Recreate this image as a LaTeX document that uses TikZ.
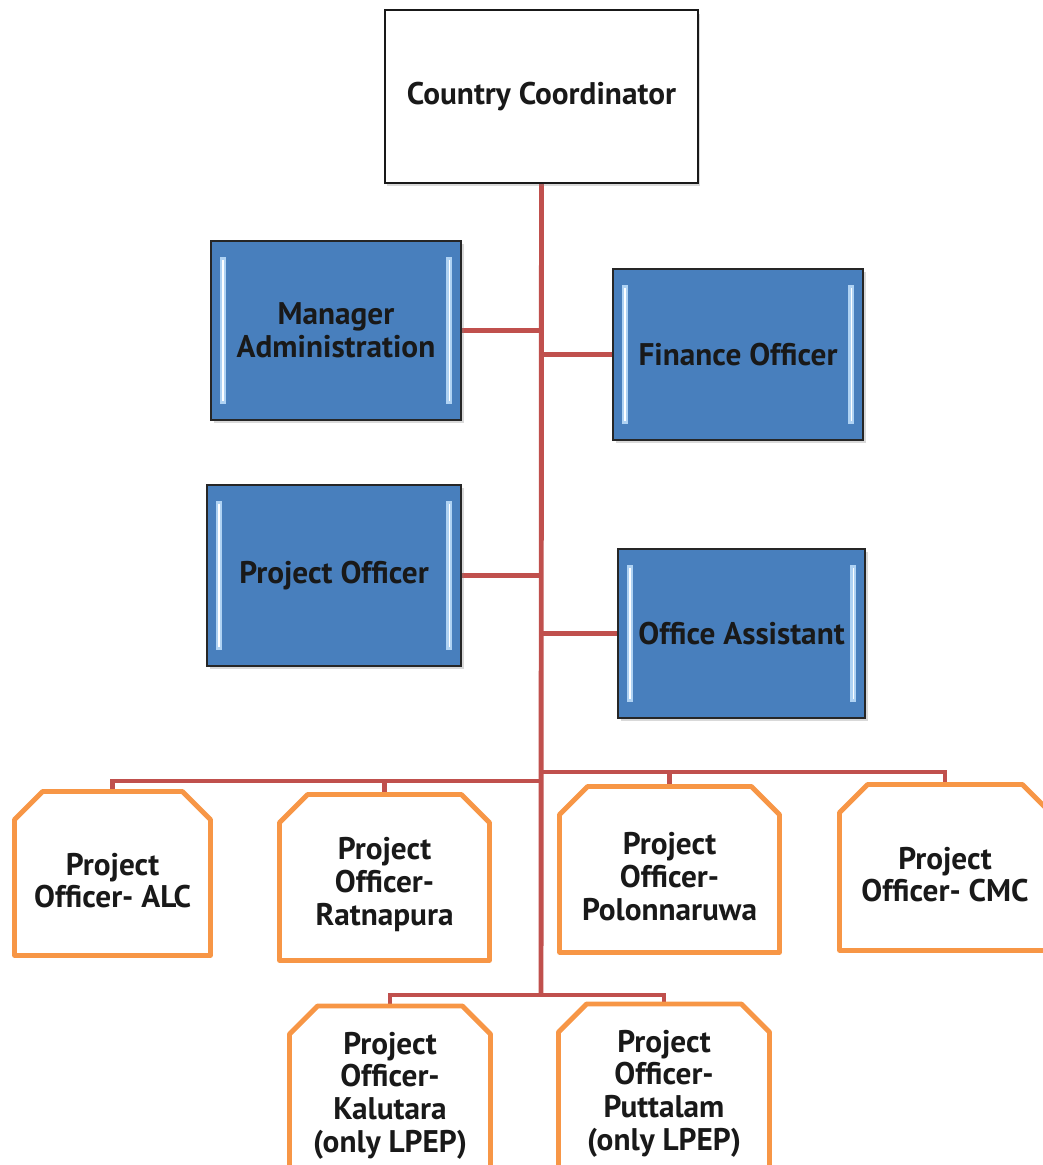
\documentclass[tikz,border=0pt]{standalone}
\usepackage{fontspec}
\setmainfont{PT Sans}
\usepackage{xcolor}
\usetikzlibrary{shapes,positioning,calc,shadows,backgrounds,arrows.meta}

\definecolor{linkred}{RGB}{192,80,77}
\definecolor{boxblue}{RGB}{72,127,189}
\definecolor{bevelblue}{RGB}{175,210,243}
\definecolor{edgeorange}{RGB}{247,150,70}

\begin{document}
\begin{tikzpicture}[x=0.02cm, y=-0.02cm,
    every node/.style={font=\fontsize{17.8}{18.6}\selectfont\bfseries, align=center, text=black!90},
    topbox/.style={draw=black!90, line width=1.2pt, fill=white, inner sep=0pt,
        drop shadow={shadow xshift=1pt, shadow yshift=-2pt, opacity=0.3}},
    bluebox/.style={draw=black!85, line width=1.3pt, fill=boxblue, inner sep=0pt,
        drop shadow={shadow xshift=1.5pt, shadow yshift=-1.5pt, opacity=0.3},
        path picture={
            \fill[bevelblue] ([xshift=5pt,yshift=-9pt]path picture bounding box.north west) rectangle ([xshift=8.5pt,yshift=9pt]path picture bounding box.south west);
            \fill[bevelblue] ([xshift=-5pt,yshift=-9pt]path picture bounding box.north east) rectangle ([xshift=-8.5pt,yshift=9pt]path picture bounding box.south east);
            \draw[white, line width=0.8pt] ([xshift=6.7pt,yshift=-11pt]path picture bounding box.north west) -- ([xshift=6.7pt,yshift=11pt]path picture bounding box.south west);
            \draw[white, line width=0.8pt] ([xshift=-6.7pt,yshift=-11pt]path picture bounding box.north east) -- ([xshift=-6.7pt,yshift=11pt]path picture bounding box.south east);
        }},
    % outline sits 4pt above the text box, so the text lies a little low as in the chart
    officebox/.style={rectangle, inner sep=0pt, outer sep=0pt,
        append after command={\pgfextra{
            \draw[edgeorange, fill=white, line width=2.8pt, line join=round]
                ([yshift=-12pt]\tikzlastnode.north west) -- ([xshift=16pt,yshift=4pt]\tikzlastnode.north west)
                -- ([xshift=-16pt,yshift=4pt]\tikzlastnode.north east) -- ([yshift=-12pt]\tikzlastnode.north east)
                -- ([yshift=4pt]\tikzlastnode.south east) -- ([yshift=4pt]\tikzlastnode.south west) -- cycle;
        }}},
    link/.style={draw=linkred, line width=2.8pt}]

    \path[use as bounding box] (0,0) rectangle (1043,1165);
    \clip (0,0) rectangle (1043,1165);

    % head
    \node[topbox, minimum width=6.26cm, minimum height=3.46cm] (cc) at (541.5,96.5) {Country Coordinator};

    % staff
    \node[bluebox, minimum width=5cm, minimum height=3.58cm] (ma) at (336,330.5) {Manager\\Administration};
    \node[bluebox, minimum width=5cm, minimum height=3.42cm] (fo) at (738,354.5) {Finance Officer};
    \node[bluebox, minimum width=5.08cm, minimum height=3.62cm] (po) at (334,575.5) {Project Officer};
    \node[bluebox, minimum width=4.94cm, minimum height=3.38cm] (oa) at (741.5,633.5) {Office Assistant};

    % districts
    \node[officebox, minimum width=3.92cm, minimum height=3.28cm] (alc) at (112.5,880.5) {Project\\Officer- ALC};
    \node[officebox, minimum width=4.2cm, minimum height=3.32cm] (rat) at (384.5,884.5) {Project\\Officer-\\Ratnapura};
    \node[officebox, minimum width=4.4cm, minimum height=3.32cm] (pol) at (669.5,876.5) {Project\\Officer-\\Polonnaruwa};
    \node[officebox, minimum width=4.22cm, minimum height=3.32cm] (cmc) at (945,874.5) {Project\\Officer- CMC};
    \node[officebox, minimum width=4.02cm, minimum height=3.3cm] (kal) at (390,1095.5) {Project\\Officer-\\Kalutara\\(only LPEP)};
    \node[officebox, minimum width=4.22cm, minimum height=3.3cm] (put) at (664,1093.5) {Project\\Officer-\\Puttalam\\(only LPEP)};

    \coordinate (j1) at (541,781);
    \coordinate (j2) at (541,772);
    \coordinate (bottom) at (541,995);

    \begin{scope}[on background layer]
    \draw[link] (cc.south) -- (bottom);
    \draw[link] (ma.east) -- (ma.east -| bottom);
    \draw[link] (fo.west) -- (fo.west -| bottom);
    \draw[link] (po.east) -- (po.east -| bottom);
    \draw[link] (oa.west) -- (oa.west -| bottom);
    \draw[link] (alc.north) |- (j1);
    \draw[link] (rat.north) |- (j1);
    \draw[link] (pol.north) |- (j2);
    \draw[link] (cmc.north) |- (j2);
    \draw[link] (kal.north) |- (bottom) -| (put.north);
    \end{scope}
\end{tikzpicture}
\end{document}
